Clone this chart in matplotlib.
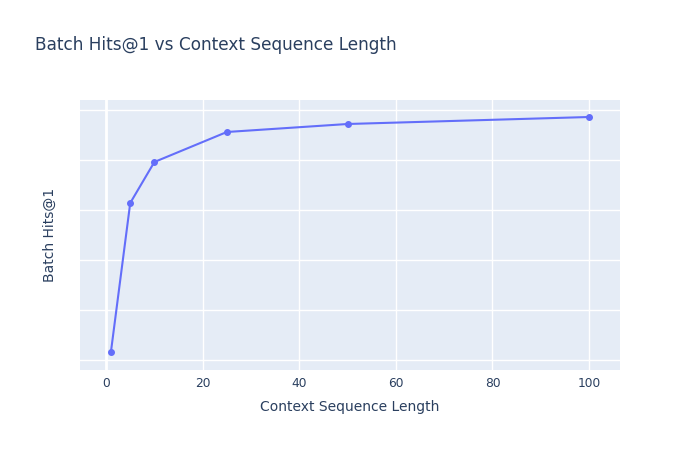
import matplotlib
matplotlib.use("Agg")
import matplotlib.pyplot as plt

# data (y axis has no tick labels, so units are relative)
seq_len = [1, 5, 10, 25, 50, 100]
hits_at_1 = [0.116, 0.414, 0.496, 0.556, 0.572, 0.586]
y_grid = [0.1, 0.2, 0.3, 0.4, 0.5, 0.6]
x_ticks = [0, 20, 40, 60, 80, 100]

bg = "#E5ECF6"
line_col = "#636EFA"
txt = "#2a3f5f"

plt.rcParams['font.family'] = ['DejaVu Sans']

fig = plt.figure(figsize=(7, 4.5), dpi=100)
ax = fig.add_axes([80/700, 80/450, 540/700, 270/450])
ax.set_facecolor(bg)

ax.plot(seq_len, hits_at_1, '-o', color=line_col, lw=1.5, ms=4, zorder=3)

ax.set_xlim(-5.4, 106.4)
ax.set_ylim(0.08, 0.62)
ax.set_xticks(x_ticks)
ax.set_yticks(y_grid)
ax.set_yticklabels([])
ax.grid(True, color='white', lw=1)
ax.axvline(0, color='white', lw=2, zorder=1)
ax.set_axisbelow(True)
for s in ax.spines.values():
    s.set_visible(False)
ax.tick_params(length=0, colors=txt, labelsize=8.8, pad=5)

ax.set_xlabel('Context Sequence Length', color=txt, fontsize=10)
ax.set_ylabel('Batch Hits@1', color=txt, fontsize=10)
ax.xaxis.set_label_coords(0.5, -30/270)
ax.yaxis.set_label_coords(-23/540, 0.5)
fig.text(35/700, 1 - 45/450, 'Batch Hits@1 vs Context Sequence Length',
         color=txt, fontsize=12.2, va='center', ha='left')

fig.savefig('out.png', dpi=100)
